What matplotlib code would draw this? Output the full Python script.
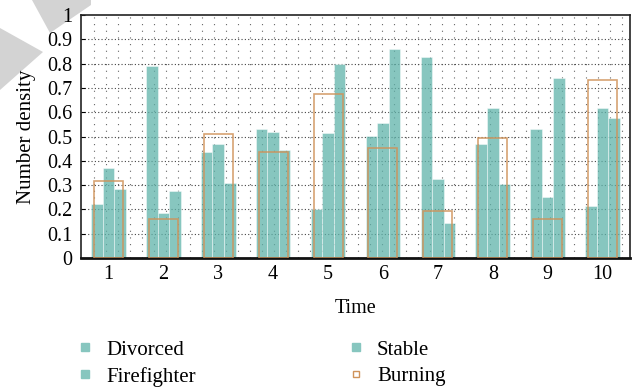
import numpy as np
import matplotlib
matplotlib.use("Agg")
import matplotlib.pyplot as plt
from matplotlib.patches import Polygon
from matplotlib.lines import Line2D

plt.rcParams['font.family'] = ['Liberation Serif', 'DejaVu Serif']

times = [1, 2, 3, 4, 5, 6, 7, 8, 9, 10]
divorced = [0.224, 0.792, 0.437, 0.530, 0.200, 0.502, 0.828, 0.470, 0.531, 0.213]
firefighter = [0.370, 0.187, 0.470, 0.517, 0.513, 0.556, 0.325, 0.618, 0.253, 0.619]
stable = [0.283, 0.274, 0.308, 0.443, 0.798, 0.861, 0.144, 0.303, 0.741, 0.578]
burning = [0.316, 0.162, 0.512, 0.435, 0.673, 0.451, 0.193, 0.493, 0.160, 0.732]
yticks = [0, 0.1, 0.2, 0.3, 0.4, 0.5, 0.6, 0.7, 0.8, 0.9, 1]
ytick_labels = ["0", "0.1", "0.2", "0.3", "0.4", "0.5", "0.6", "0.7", "0.8", "0.9", "1"]

teal = '#5fb3aa'
orange = '#cf935a'

fig = plt.figure(figsize=(6.4, 3.89), dpi=100)
ax = fig.add_axes([81/640, 1-258/389, (630-81)/640, (258-15)/389])

x = np.array(times, dtype=float)
w = 0.21

# grid
for gx in np.linspace(0.737, 10.354, 45):
    ax.axvline(gx, color='#666666', lw=0.8, ls=(0, (1, 5)), zorder=0.5)
for gy in yticks[1:-1]:
    ax.axhline(gy, color='#444444', lw=0.8, ls=(0, (1, 2)), zorder=0.5)

ax.bar(x - w, divorced, width=w, color=teal, alpha=0.75, edgecolor='white', lw=0.4, zorder=2)
ax.bar(x, firefighter, width=w, color=teal, alpha=0.75, edgecolor='white', lw=0.4, zorder=2)
ax.bar(x + w, stable, width=w, color=teal, alpha=0.75, edgecolor='white', lw=0.4, zorder=2)
ax.bar(x, burning, width=0.53, facecolor='none', edgecolor=orange, lw=1.2, alpha=0.85, zorder=3)

ax.set_xlim(0.5, 10.5)
ax.set_ylim(0, 1)
ax.set_xticks(times)
ax.set_xticklabels([str(t) for t in times], fontsize=14.5)
ax.set_yticks(yticks)
ax.set_yticklabels(ytick_labels, fontsize=14.5)
ax.tick_params(axis='both', direction='in', length=3, width=0.8, pad=6)
ax.tick_params(axis='x', length=0, pad=5)
for s in ['top', 'right', 'left']:
    ax.spines[s].set_linewidth(1.2)
    ax.spines[s].set_color('#222222')
ax.spines['bottom'].set_linewidth(2.0)
ax.spines['bottom'].set_color('#111111')

ax.set_xlabel('Time', fontsize=14.5, labelpad=11)
ax.set_ylabel('Number density', fontsize=15, labelpad=8)

handles = [
    Line2D([], [], ls='none', marker='s', markersize=5.5, markerfacecolor='#87c6bf', markeredgecolor='#87c6bf'),
    Line2D([], [], ls='none', marker='s', markersize=5.5, markerfacecolor='#87c6bf', markeredgecolor='#87c6bf'),
    Line2D([], [], ls='none', marker='s', markersize=5.5, markerfacecolor='#87c6bf', markeredgecolor='#87c6bf'),
    Line2D([], [], ls='none', marker='s', markersize=5, markerfacecolor='white', markeredgecolor=orange, markeredgewidth=1.0),
]
labels = ['Divorced', 'Firefighter', 'Stable', 'Burning']
fig.legend(handles, labels, loc='upper left', bbox_to_anchor=(76/640, 1-340/389),
           ncol=2, frameon=False, fontsize=15, handlelength=0.9, handletextpad=0.55,
           columnspacing=7.25, labelspacing=0.35, borderpad=0, borderaxespad=0)

# watermark shapes
fig.patches.append(Polygon([(32/640, 1), (91/640, 1), (91/640, 1-5/389), (50/640, 1-33/389)], closed=True,
                           transform=fig.transFigure, facecolor='#d3d3d3', edgecolor='none', zorder=-1))
fig.patches.append(Polygon([(0, 1-28/389), (43/640, 1-52/389), (0, 1-90/389)], closed=True,
                           transform=fig.transFigure, facecolor='#d3d3d3', edgecolor='none', zorder=-1))

fig.savefig('out.png', dpi=100)
